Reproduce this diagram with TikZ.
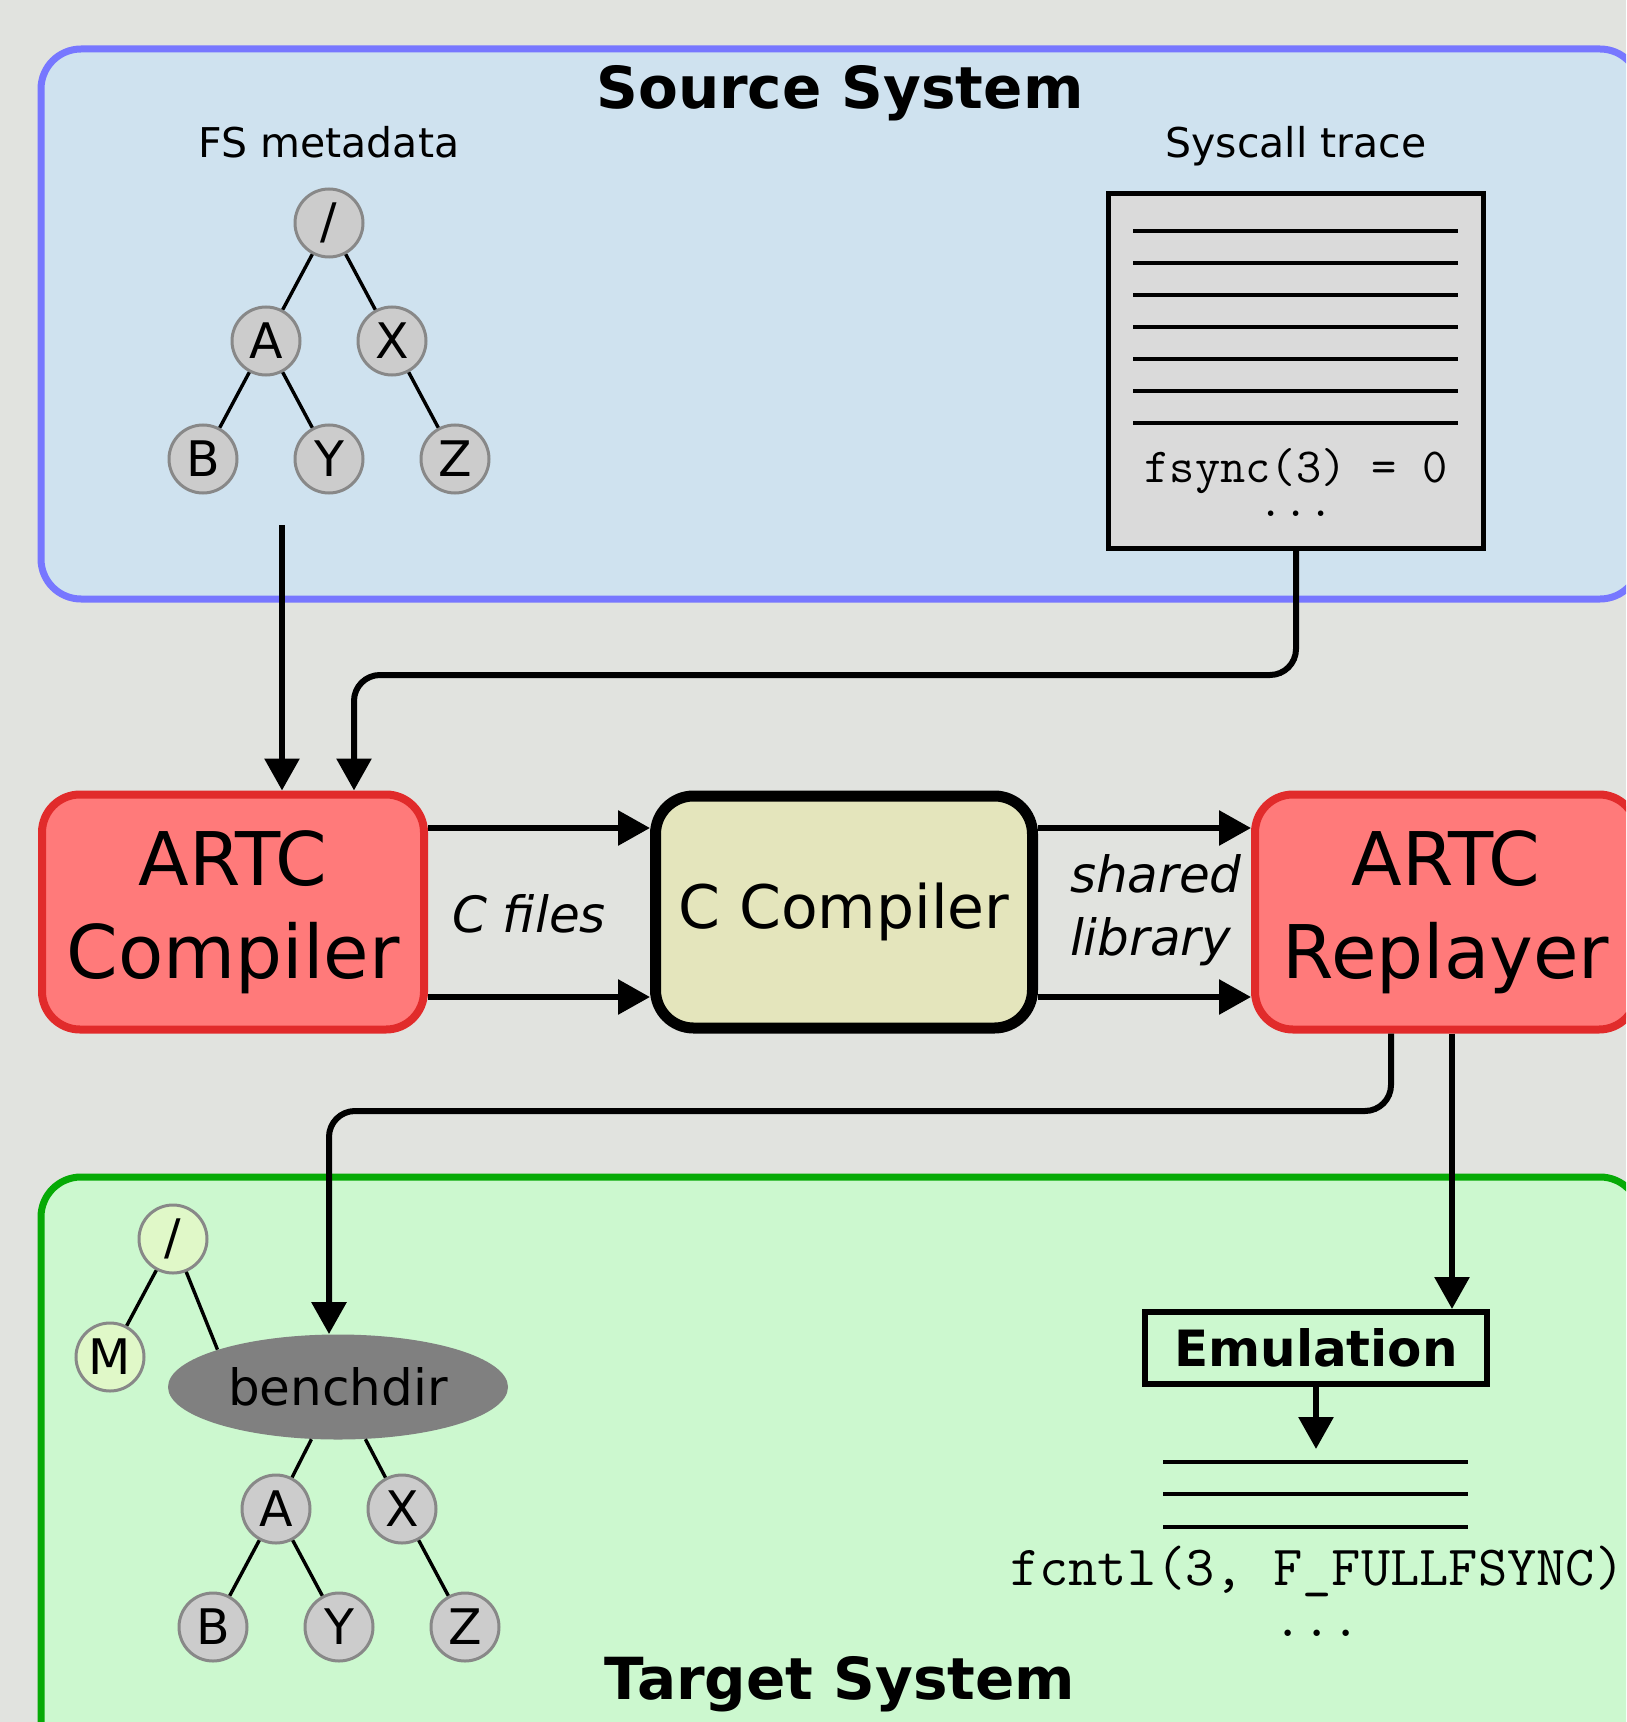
\documentclass[tikz,border=0pt]{standalone}
\usepackage{fontspec}
\setmainfont{DejaVu Sans}
\usepackage{tikz}
\usetikzlibrary{positioning,shapes.geometric,arrows.meta}
\definecolor{bggray}{HTML}{E1E3DF}
\definecolor{srcedge}{HTML}{7777FF}
\definecolor{srcfill}{HTML}{CFE2EF}
\definecolor{tgtedge}{HTML}{06AA06}
\definecolor{tgtfill}{HTML}{CCF8CF}
\definecolor{nodegray}{HTML}{CCCCCC}
\definecolor{nodeedge}{HTML}{888888}
\definecolor{newgreen}{HTML}{E0F8C8}
\definecolor{benchgray}{HTML}{808080}
\definecolor{artcedge}{HTML}{E12B2B}
\definecolor{artcfill}{HTML}{FF7A7A}
\definecolor{ccfill}{HTML}{E4E5BC}
\definecolor{tracefill}{HTML}{DADADA}
\tikzset{fsnode/.style={circle,draw=nodeedge,fill=nodegray,line width=1.5pt,inner sep=0pt,minimum size=34pt,font=\fontsize{24.5}{28}\selectfont},
	 newnode/.style={fsnode,fill=newgreen},
	 benchnode/.style={ellipse,fill=benchgray,inner sep=0pt,minimum width=170pt,minimum height=52.5pt,font=\fontsize{25}{30}\selectfont},
	 treeedge/.style={line width=1.7pt},
	 sysbox/.style={line width=3.5pt,rounded corners=20pt},
	 titletext/.style={anchor=base,font=\bfseries\fontsize{29}{34}\selectfont},
	 labeltext/.style={anchor=base,font=\fontsize{20.5}{24}\selectfont},
	 stagebox/.style={rectangle,rounded corners=19pt,line width=4pt,inner sep=2pt,minimum width=191pt,minimum height=117.5pt,align=center,font=\fontsize{37}{46.5}\selectfont},
	 tracebox/.style={rectangle,draw,fill=tracefill,line width=2.4pt,minimum width=187.5pt,minimum height=177.5pt},
	 emubox/.style={rectangle,draw,line width=3pt,minimum width=171pt,minimum height=36pt,font=\bfseries\fontsize{25}{30}\selectfont},
	 flowtext/.style={font=\itshape\fontsize{25}{31.5}\selectfont},
	 calltext/.style={anchor=base,font=\ttfamily\fontsize{24.5}{28}\selectfont},
	 outtext/.style={anchor=base,font=\ttfamily\fontsize{28.4}{33}\selectfont},
	 textline/.style={line width=2pt},
	 flow/.style={line width=3pt,-{Triangle[length=16pt,width=17pt]}},
	 node distance = 59pt and 31.5pt,
	 on grid
	 }
\begin{document}
\begin{tikzpicture}[x=0.5pt,y=-0.5pt] % ARTC pipeline
        \useasboundingbox (0,0) rectangle (1626,1722);
        \clip (0,0) rectangle (1626,1722);
        \fill[bggray] (0,0) rectangle (1626,1722);
        \draw[sysbox,draw=srcedge,fill=srcfill] (41,49) rectangle (1640,599);
        \draw[sysbox,draw=tgtedge,fill=tgtfill] (41,1177) rectangle (1640,1780);
        \node[titletext] (srctitle) at (840,109) {Source System};
        \node[titletext] (tgttitle) at (840,1699) {Target System};

        \node[labeltext] (fslabel) at (329,158) {FS metadata};
        \node[fsnode] (sroot) at (329,223) {/};
        \node[fsnode] (sa) [below left=of sroot] {A};
        \node[fsnode] (sx) [below right=of sroot] {X};
        \node[fsnode] (sb) [below left=of sa] {B};
        \node[fsnode] (sy) [below right=of sa] {Y};
        \node[fsnode] (sz) [below right=of sx] {Z};
        \draw[treeedge] (sroot) -- (sa) (sroot) -- (sx) (sa) -- (sb) (sa) -- (sy) (sx) -- (sz);

        \node[labeltext] (tracelabel) at (1296,158) {Syscall trace};
        \node[tracebox] (trace) at (1296,371) {};
        \foreach \y in {231,263,...,423}
          \draw[textline] (1133,\y) -- (1458,\y);
        \node[calltext] (fsync) at (1296,482) {fsync(3) = 0};
        \node[calltext] (moresrc) at (1296,516) {...};

        \node[stagebox,draw=artcedge,fill=artcfill] (artcc) at (233,912) {ARTC\\Compiler};
        \node[stagebox,draw=black,fill=ccfill,line width=5.5pt,minimum width=188.5pt,minimum height=116pt,font=\fontsize{30}{36}\selectfont] (ccomp) at (844,912) {C Compiler};
        \node[stagebox,draw=artcedge,fill=artcfill] (replay) at (1446,912) {ARTC\\Replayer};
        \node[flowtext] (cfiles) at (529,914) {C files};
        \node[flowtext,align=left,anchor=west] (shlib) at (1063,910) {shared\\library};

        \coordinate (fsout) at (282,525);
        \coordinate (tracebend) at (354,675);
        \draw[flow] (fsout) -- (fsout |- artcc.north);
        \draw[flow,rounded corners=13pt] (trace.south) |- (tracebend) -- (tracebend |- artcc.north);
        \draw[flow] ([yshift=42pt]artcc.east) -- ([yshift=42pt]ccomp.west);
        \draw[flow] ([yshift=-42.5pt]artcc.east) -- ([yshift=-42.5pt]ccomp.west);
        \draw[flow] ([yshift=42pt]ccomp.east) -- ([yshift=42pt]replay.west);
        \draw[flow] ([yshift=-42.5pt]ccomp.east) -- ([yshift=-42.5pt]replay.west);

        \node[newnode] (troot) at (173,1239) {/};
        \node[newnode] (tm) [below left=of troot] {M};
        \node[benchnode] (bench) at (338,1387) {benchdir};
        \node[fsnode] (ta) [below left=61pt and 31pt of bench] {A};
        \node[fsnode] (tx) [below right=61pt and 32pt of bench] {X};
        \node[fsnode] (tb) [below left=of ta] {B};
        \node[fsnode] (ty) [below right=of ta] {Y};
        \node[fsnode] (tz) [below right=of tx] {Z};
        \draw[treeedge] (troot) -- (tm) (troot) -- (bench.north west) (bench) -- (ta) (bench) -- (tx) (ta) -- (tb) (ta) -- (ty) (tx) -- (tz);

        \node[emubox] (emul) at (1316,1348) {Emulation};
        \coordinate (emuout) at (1316,1449);
        \foreach \y in {1462,1494,1527}
          \draw[textline] (1163,\y) -- (1468,\y);
        \node[outtext,anchor=base west] (fcntl) at (1003,1585) {fcntl(3, F\_FULLFSYNC)};
        \node[outtext] (moretgt) at (1317,1636) {...};

        \coordinate (benchbend) at (329,1111);
        \draw[flow,rounded corners=13pt] ([xshift=-27.5pt]replay.south) |- (benchbend) -- (benchbend |- bench.north);
        \draw[flow] ([xshift=3pt]replay.south) -- ([xshift=3pt]replay.south |- emul.north);
        \draw[flow] (emul.south) -- (emuout);
     \end{tikzpicture}
\end{document}
